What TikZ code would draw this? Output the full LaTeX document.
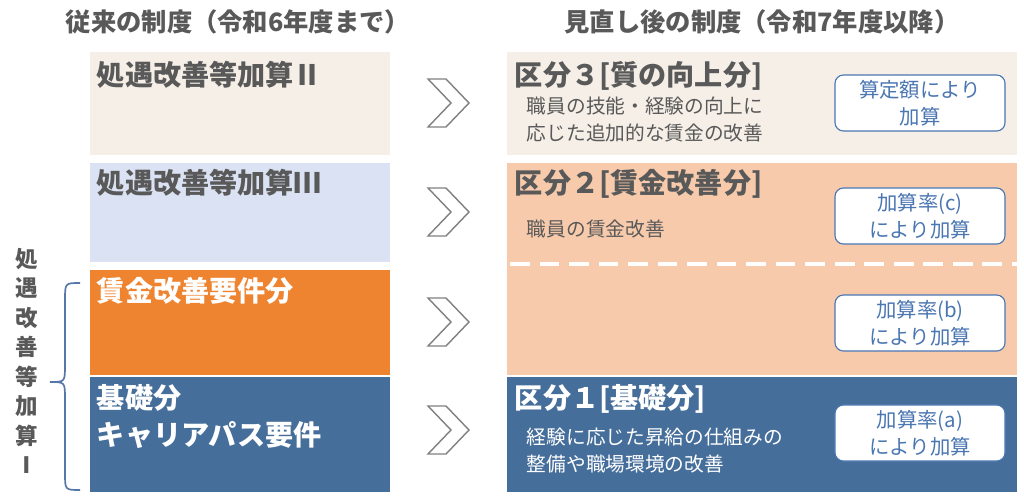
\documentclass[tikz,border=0pt]{standalone}
\usepackage{fontspec}
\setmainfont{Noto Sans CJK JP}
\usetikzlibrary{positioning}
\definecolor{txtgray}{RGB}{89,89,89}
\definecolor{beige}{RGB}{246,239,231}
\definecolor{lavend}{RGB}{218,226,243}
\definecolor{orng}{RGB}{238,132,48}
\definecolor{peach}{RGB}{247,202,172}
\definecolor{navy}{RGB}{70,110,155}
\definecolor{framebl}{RGB}{74,118,178}
\tikzset{
  head/.style={text=txtgray,font=\fontsize{18}{22}\selectfont\bfseries},
  title/.style={anchor=north west,font=\fontsize{20}{27}\selectfont\bfseries,align=left},
  note/.style={anchor=north west,font=\fontsize{14}{19}\selectfont,align=left},
  rate/.style={draw=framebl,fill=white,rounded corners=6pt,line width=0.8pt,
    minimum width=4.25cm,minimum height=1.4cm,text=framebl,align=center,
    font=\fontsize{14.5}{19}\selectfont},
  chev/.style={draw=gray,fill=white,line width=1pt,line join=miter}
}
\begin{document}
\begin{tikzpicture}[x=0.025cm,y=-0.025cm]
\useasboundingbox (0,0) rectangle (1024,500);
% headers
\node[head] (hl) at (238,22) {従来の制度（令和6年度まで）};
\node[head] (hr) at (762,22) {見直し後の制度（令和7年度以降）};
% left column
\fill[beige] (90,52) rectangle (390,155);
\fill[lavend] (90,163) rectangle (390,262);
\fill[orng] (90,270) rectangle (390,375);
\fill[navy] (90,377) rectangle (390,492);
\node[title,text=txtgray] (l1) at (92,56) {処遇改善等加算Ⅱ};
\node[title,text=txtgray] (l2) at (92,164) {処遇改善等加算Ⅲ};
\node[title,text=white] (l3) at (92,272) {賃金改善要件分};
\node[title,text=white] (l4) at (92,379) {基礎分\\キャリアパス要件};
% brace and vertical label
\draw[framebl!80!gray,line width=1.2pt] (80,283) .. controls (65,283) .. (65,300) -- (65,365)
  .. controls (65,382) .. (50,382) .. controls (65,382) .. (65,399) -- (65,473)
  .. controls (65,490) .. (80,490);
\node[text=txtgray,font=\fontsize{16}{21}\selectfont\bfseries,align=center,anchor=north] (vl) at (27,243)
  {処\\遇\\改\\善\\等\\加\\算\\Ⅰ};
% chevrons
\foreach \cy in {103,212,322,430}
  \draw[chev] (428,\cy-24) -- (446,\cy-24) -- (469,\cy) -- (446,\cy+24) -- (428,\cy+24) -- (451,\cy) -- cycle;
% right column
\fill[beige] (507,52) rectangle (1017,155);
\fill[peach] (507,163) rectangle (1017,375);
\fill[navy] (507,377) rectangle (1017,492);
\draw[white,line width=2.5pt,dash pattern=on 14pt off 7pt] (510,264) -- (1017,264);
\node[title,text=txtgray] (r3) at (510,56) {区分３[質の向上分]};
\node[note,text=txtgray] (n3) at (522,92) {職員の技能・経験の向上に\\応じた追加的な賃金の改善};
\node[title,text=txtgray] (r2) at (510,164) {区分２[賃金改善分]};
\node[note,text=txtgray] (n2) at (522,215) {職員の賃金改善};
\node[title,text=white] (r1) at (510,379) {区分１[基礎分]};
\node[note,text=white] (n1) at (522,423) {経験に応じた昇給の仕組みの\\整備や職場環境の改善};
\node[rate] (k1) at (920,103) {算定額により\\加算};
\node[rate] (k2) at (920,216) {加算率(c)\\により加算};
\node[rate] (k3) at (920,323) {加算率(b)\\により加算};
\node[rate] (k4) at (920,433) {加算率(a)\\により加算};
\end{tikzpicture}
\end{document}
